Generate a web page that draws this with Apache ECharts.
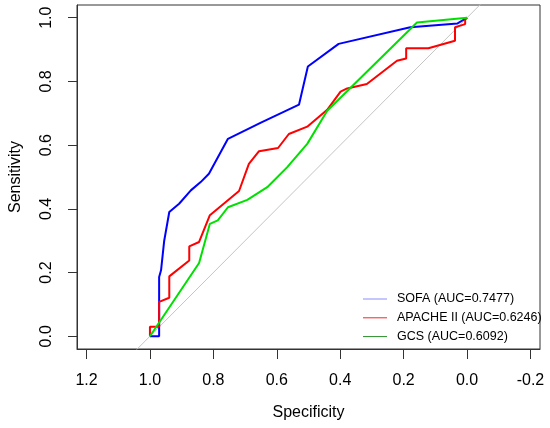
<!DOCTYPE html>
<html>
<head>
<meta charset="utf-8">
<script src="https://cdn.jsdelivr.net/npm/echarts@6/dist/echarts.min.js"></script>
<style>
  html, body { margin: 0; padding: 0; background: #fff; }
  #roc { width: 550px; height: 428px; }
</style>
</head>
<body>
<div id="roc"></div>
<script>
// ROC curves, points are [specificity, sensitivity]
var sofa = [
  [1.0, 0], [0.971, 0], [0.971, 0.186], [0.965, 0.207], [0.955, 0.30],
  [0.939, 0.39], [0.908, 0.416], [0.871, 0.458], [0.840, 0.484],
  [0.814, 0.510], [0.754, 0.620], [0.650, 0.671], [0.530, 0.727],
  [0.502, 0.847], [0.405, 0.918], [0.179, 0.970], [0.030, 0.982], [0, 1]
];
var apache = [
  [1.0, 0], [1.0, 0.03], [0.971, 0.03], [0.971, 0.108], [0.939, 0.121],
  [0.939, 0.188], [0.876, 0.238], [0.876, 0.282], [0.845, 0.296],
  [0.811, 0.380], [0.719, 0.456], [0.688, 0.541], [0.656, 0.581],
  [0.596, 0.591], [0.562, 0.635], [0.504, 0.658], [0.441, 0.711],
  [0.399, 0.768], [0.378, 0.778], [0.316, 0.792], [0.221, 0.865],
  [0.192, 0.872], [0.192, 0.904], [0.122, 0.904], [0.038, 0.928],
  [0.038, 0.970], [0.006, 0.980], [0.006, 0.994], [0, 1]
];
var gcs = [
  [1.0, 0], [0.845, 0.230], [0.811, 0.353], [0.786, 0.364], [0.754, 0.405],
  [0.693, 0.428], [0.630, 0.468], [0.567, 0.531], [0.504, 0.604],
  [0.441, 0.708], [0.158, 0.985], [0, 1]
];
var chance = [[1.3, -0.3], [-0.3, 1.3]];

var names = ['SOFA (AUC=0.7477)', 'APACHE II (AUC=0.6246)', 'GCS (AUC=0.6092)'];
var xTicks = [-0.2, 0, 0.2, 0.4, 0.6, 0.8, 1.0, 1.2];
var yTicks = [0, 0.2, 0.4, 0.6, 0.8, 1.0];

var font = 'Liberation Sans, Arial, sans-serif';
var myChart = echarts.init(document.getElementById('roc'));

var option = {
  backgroundColor: '#fff',
  animation: false,
  grid: {
    left: 76, top: 5, right: 10, bottom: 79,
    show: true, borderColor: '#333', borderWidth: 1
  },
  legend: {
    orient: 'vertical',
    left: 358, top: 284.6,
    itemWidth: 24, itemHeight: 1,
    itemGap: 0,
    icon: 'rect',
    selectedMode: false,
    textStyle: {
      fontFamily: font, fontSize: 12.5, color: '#000',
      lineHeight: 18.8, padding: [0, 0, 0, 5]
    },
    data: [
      { name: names[0], itemStyle: { color: '#8c8cff' } },
      { name: names[1], itemStyle: { color: '#ff2020' } },
      { name: names[2], itemStyle: { color: '#2a8a2a' } }
    ]
  },
  xAxis: {
    type: 'value',
    inverse: true,
    min: -0.23, max: 1.23,
    name: 'Specificity',
    nameLocation: 'middle',
    nameGap: 56,
    nameTextStyle: { fontFamily: font, fontSize: 16, color: '#000' },
    axisLine: { show: true, onZero: false, lineStyle: { color: '#333', width: 1 } },
    axisTick: { show: true, length: 10, customValues: xTicks, lineStyle: { color: '#333' } },
    axisLabel: {
      customValues: xTicks, margin: 24,
      fontFamily: font, fontSize: 16, color: '#000',
      formatter: function (v) { return v.toFixed(1); }
    },
    splitLine: { show: false }
  },
  yAxis: {
    type: 'value',
    min: -0.04, max: 1.04,
    name: 'Sensitivity',
    nameLocation: 'middle',
    nameGap: 53,
    nameTextStyle: { fontFamily: font, fontSize: 16, color: '#000' },
    axisLine: { show: true, onZero: false, lineStyle: { color: '#333', width: 1 } },
    axisTick: { show: true, length: 9, customValues: yTicks, lineStyle: { color: '#333' } },
    axisLabel: {
      customValues: yTicks, margin: 22, rotate: 90,
      fontFamily: font, fontSize: 16, color: '#000',
      formatter: function (v) { return v.toFixed(1); }
    },
    splitLine: { show: false }
  },
  series: [
    {
      name: 'chance', type: 'line', data: chance, symbol: 'none', silent: true,
      lineStyle: { color: '#c4c4c4', width: 1 }
    },
    {
      name: names[0], type: 'line', data: sofa, symbol: 'none',
      lineStyle: { color: '#0000ff', width: 2 }, itemStyle: { color: '#0000ff' }
    },
    {
      name: names[1], type: 'line', data: apache, symbol: 'none',
      lineStyle: { color: '#ff0000', width: 2 }, itemStyle: { color: '#ff0000' }
    },
    {
      name: names[2], type: 'line', data: gcs, symbol: 'none',
      lineStyle: { color: '#00e000', width: 2 }, itemStyle: { color: '#00e000' }
    }
  ]
};

myChart.setOption(option);
window.addEventListener('resize', function () {
  myChart.resize();
});
</script>
</body>
</html>
